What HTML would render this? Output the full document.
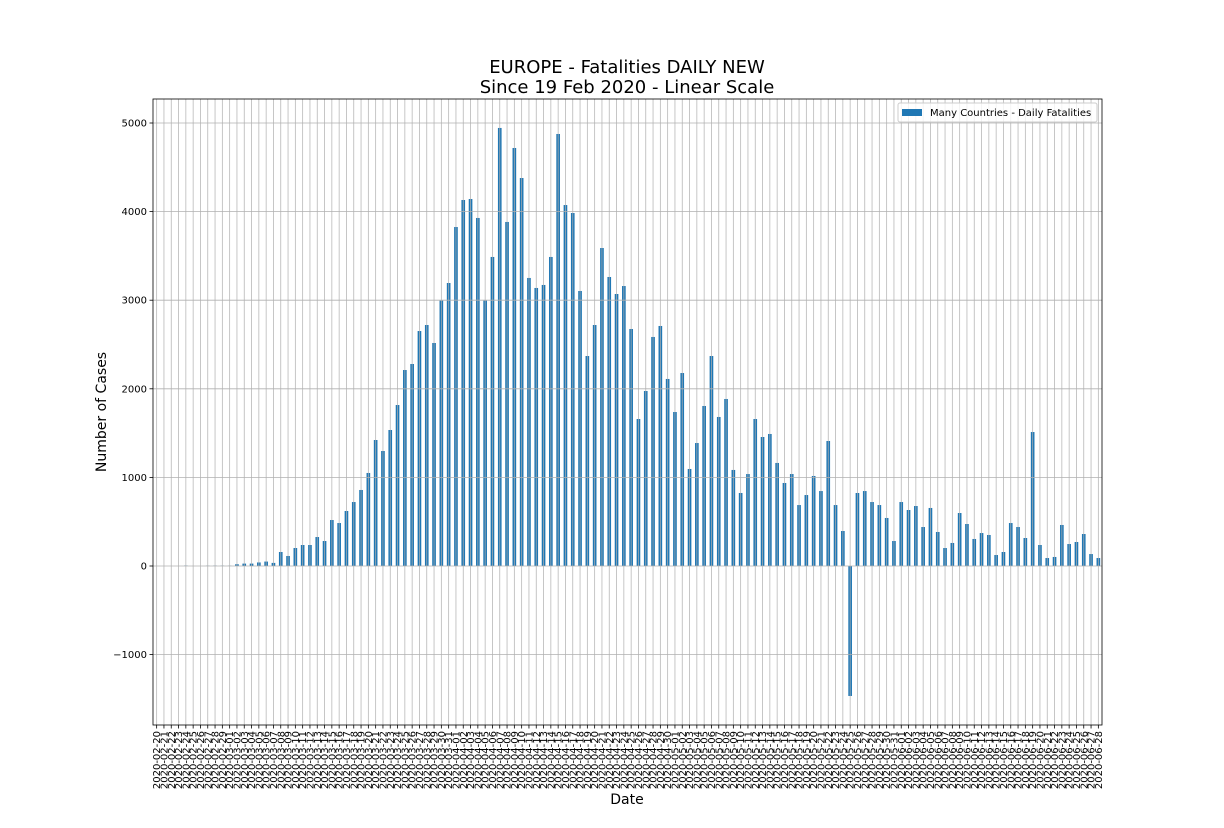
<!DOCTYPE html>
<html><head><meta charset="utf-8">
<style>
html,body{margin:0;padding:0;background:#fff;}
svg{display:block;font-family:"DejaVu Sans","Liberation Sans",sans-serif;}
</style></head>
<body>
<svg id="chart" width="1224" height="828" viewBox="0 0 1224 828" xmlns="http://www.w3.org/2000/svg">
<rect x="0" y="0" width="1224" height="828" fill="#fff"/>
<text x="627" y="73" font-size="18" text-anchor="middle">EUROPE - Fatalities DAILY NEW</text>
<text x="627" y="93" font-size="18" text-anchor="middle">Since 19 Feb 2020 - Linear Scale</text>
<g id="plot"></g>
<text transform="translate(106,412) rotate(-90)" font-size="14" text-anchor="middle">Number of Cases</text>
<text x="627" y="804" font-size="14" text-anchor="middle">Date</text>
<g>
<rect x="898" y="103" width="199" height="19" rx="2" fill="#fff" fill-opacity="0.8" stroke="#ccc"/>
<rect x="902" y="109" width="20" height="7" fill="#1f77b4"/>
<text x="930" y="116" font-size="10">Many Countries - Daily Fatalities</text>
</g>
</svg>
<script>
const values = [0,0,0,0,5,0,0,3,4,4,3,20,27,27,40,50,35,158,113,203,237,237,327,282,519,485,621,722,858,1050,1422,1298,1535,1817,2212,2280,2652,2720,2517,2995,3194,3826,4131,4142,3928,2995,3488,4944,3883,4718,4379,3251,3138,3172,3488,4876,4074,3984,3104,2370,2720,3589,3262,3070,3160,2675,1659,1975,2585,2709,2111,1738,2178,1095,1388,1806,2370,1682,1885,1084,824,1038,1659,1456,1490,1163,937,1038,688,801,1016,846,1411,688,395,-1467,824,846,722,688,542,282,722,632,677,440,655,384,203,260,598,474,305,372,350,124,158,485,440,316,1512,237,90,102,463,248,271,361,135,90];
const startDate = "2020-02-20";
const yTicks = [-1000,0,1000,2000,3000,4000,5000];
const yTickLabels = ["\u22121000","0","1000","2000","3000","4000","5000"];

const NS="http://www.w3.org/2000/svg";
const L=153,R=1102,T=99,B=725;
const yMin=-1795,yMax=5271;
function yScale(v){return 566+(0-v)*(443/5000);}
const n=values.length;
const step=(R-L)/n;
function xScale(i){return L+step*(i+0.5);}
const g=document.getElementById('plot');
function mk(tag,attrs){const e=document.createElementNS(NS,tag);for(const k in attrs)e.setAttribute(k,attrs[k]);g.appendChild(e);return e;}
// labels dates
const dates=[];
{const d=new Date(startDate+"T00:00:00Z");for(let i=0;i<n;i++){const dd=new Date(d.getTime()+i*86400000);dates.push(dd.toISOString().slice(0,10));}}
// bars
for(let i=0;i<n;i++){
  const y0=yScale(0),y1=yScale(values[i]);
  const r=mk('rect',{x:xScale(i)-step*0.25,y:Math.min(y0,y1),width:step*0.5,height:Math.abs(y1-y0),fill:'#1f77b4'});
  
  
}
// grid
for(let i=0;i<n;i++){
  const l=mk('line',{x1:xScale(i),x2:xScale(i),y1:T,y2:B,stroke:'#b0b0b0','stroke-width':0.8,'stroke-opacity':0.9});
  
  
}
yTicks.forEach((v,k)=>{
  const y=yScale(v);
  const l=mk('line',{x1:L,x2:R,y1:y,y2:y,stroke:'#b0b0b0','stroke-width':0.8});
  
  
  mk('line',{x1:L-3.5,x2:L,y1:y,y2:y,stroke:'#000','stroke-width':0.8});
  const t=mk('text',{x:L-6,y:y+3.5,'font-size':10,'text-anchor':'end'});
  t.textContent=yTickLabels[k];
  
  
});
// x ticks & labels
for(let i=0;i<n;i++){
  const x=xScale(i);
  mk('line',{x1:x,x2:x,y1:B,y2:B+3.5,stroke:'#000','stroke-width':0.8});
  const t=mk('text',{transform:`translate(${x+3.5},${B+6}) rotate(-90)`,'font-size':10,'text-anchor':'end'});
  t.textContent=dates[i];
  
  
}
const fr=mk('rect',{x:L,y:T,width:R-L,height:B-T,fill:'none',stroke:'#000','stroke-width':0.8});


</script>
</body></html>
